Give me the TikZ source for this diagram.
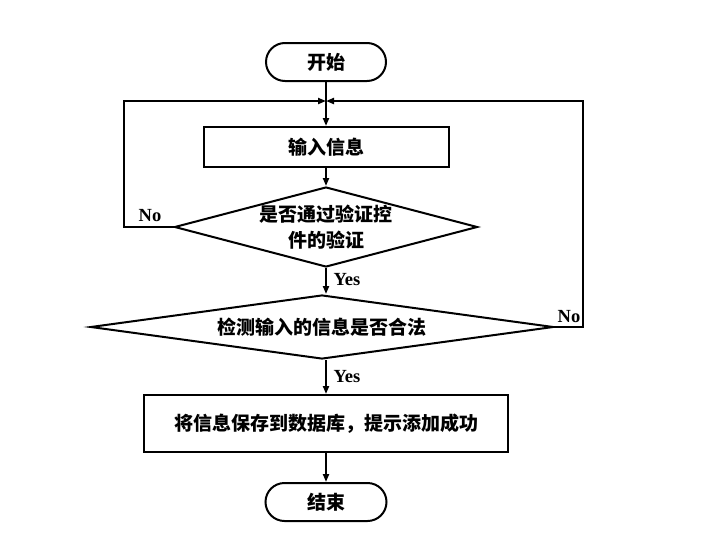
\documentclass[tikz,border=0pt]{standalone}
\usepackage{fontspec}
\setmainfont{Liberation Serif}
\newfontfamily\cjk{Noto Sans CJK SC}
\usetikzlibrary{shapes.geometric,arrows.meta}

\begin{document}
\begin{tikzpicture}[x=1pt,y=-1pt,line width=2pt,>={Triangle[length=8pt,width=6pt]}]
\tikzstyle{every node}+=[inner sep=0pt,font=\cjk\bfseries\fontsize{19}{26}\selectfont]
\tikzstyle{term}=[draw,rounded corners=19pt,minimum width=120pt,minimum height=38pt]
\tikzstyle{proc}=[draw,minimum width=245pt,minimum height=40pt]
\tikzstyle{test}=[draw,diamond,align=center]
\tikzstyle{lab}=[font=\bfseries\fontsize{18.5}{20}\selectfont]
\useasboundingbox (0,0) rectangle (712,544);
\node [term] (start) at (326,62) {开始};
\node [proc] (input) at (326,147) {输入信息};
\node [test,minimum width=303pt,minimum height=80pt,shape aspect=3.8] (check) at (326,227) {是否通过验证控\\件的验证};
\node [test,minimum width=463pt,minimum height=64pt,shape aspect=7.2] (legal) at (322,327) {检测输入的信息是否合法};
\node [proc,minimum width=364pt,minimum height=57pt] (save) at (326,423.5) {将信息保存到数据库，提示添加成功};
\node [term,minimum width=121pt] (stop) at (326,502) {结束};
\coordinate (join) at (326,101);
\coordinate (lft) at (124,101);
\coordinate (rgt) at (583,101);
\node [lab] (nol) at (150,216) {No};
\node [lab] (nor) at (569,317) {No};
\node [lab] (yes1) at (347,280) {Yes};
\node [lab] (yes2) at (347,377) {Yes};
\draw [->] (start) -- (input);
\draw [->] (input) -- (check);
\draw [->] (check) -- (check.south |- legal.north);
\draw [->] (legal.south -| save.north) -- (save);
\draw [->] (save) -- (stop);
\draw [->] (check.west) -| (lft) -- (join);
\draw [->] (legal.east) -| (rgt) -- (join);
\end{tikzpicture}
\end{document}
